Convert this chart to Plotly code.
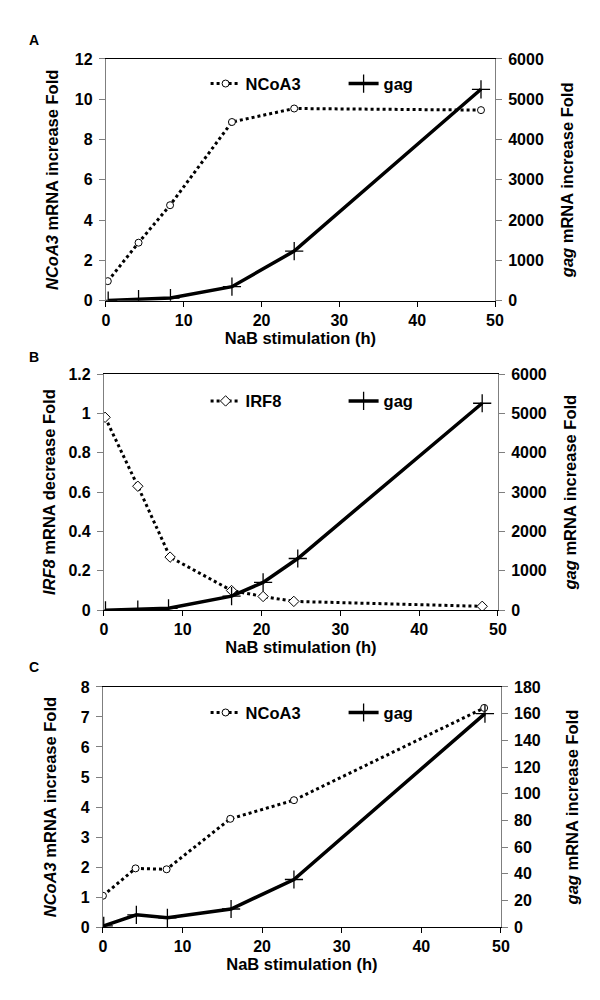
import plotly.graph_objects as go

# ---------------- data ----------------
# Panel A
a_ncoa3_x = [0.25, 4.2, 8.25, 16.2, 24.2, 48.2]
a_ncoa3_y = [0.97, 2.88, 4.74, 8.87, 9.54, 9.46]
a_gag_x = [0.3, 4.2, 8.3, 16.2, 24.2, 48.2]
a_gag_y = [5, 40, 65, 348, 1231, 5247]

# Panel B
b_irf8_x = [0.15, 4.3, 8.4, 16.2, 20.2, 24.1, 48.0]
b_irf8_y = [0.98, 0.63, 0.27, 0.10, 0.07, 0.045, 0.02]
b_gag_x = [0.2, 4.3, 8.2, 16.2, 20.2, 24.6, 48.0]
b_gag_y = [0, 17, 50, 358, 707, 1314, 5258]

# Panel C
c_ncoa3_x = [0.0, 4.1, 8.0, 16.0, 24.0, 47.9]
c_ncoa3_y = [1.05, 1.96, 1.93, 3.61, 4.23, 7.3]
c_gag_x = [0.1, 4.2, 8.1, 16.1, 24.0, 48.0]
c_gag_y = [1, 9.3, 7.1, 13.7, 35.8, 160]

FONT = "Liberation Sans, Arial, sans-serif"
TFS = 16      # tick labels
LFS = 16.5    # titles / legend
GRAY = "#7f7f7f"

# figure lives inside the page body (8 px default margin)
W, H = 584, 984
OFF = 8

def px_x(p):
    return (p - OFF) / W

def px_y(p):
    return 1 - (p - OFF) / H

fig = go.Figure()

def dotted(x, y, name, symbol, size, xa, ya, leg):
    fig.add_trace(go.Scatter(
        x=x, y=y, name=name, mode="lines+markers", xaxis=xa, yaxis=ya, legend=leg,
        line=dict(color="black", width=3, dash="dot"),
        marker=dict(symbol=symbol, size=size, color="white",
                    line=dict(color="black", width=1))))

def solid(x, y, name, xa, ya, leg):
    fig.add_trace(go.Scatter(
        x=x, y=y, name=name, mode="lines+markers", xaxis=xa, yaxis=ya, legend=leg,
        line=dict(color="black", width=3.5),
        marker=dict(symbol="cross-thin", size=13, color="black",
                    line=dict(color="black", width=1.3))))

dotted(a_ncoa3_x, a_ncoa3_y, "NCoA3", "circle", 7, "x", "y", "legend")
solid(a_gag_x, a_gag_y, "gag", "x", "y2", "legend")
dotted(b_irf8_x, b_irf8_y, "IRF8", "diamond", 8, "x2", "y3", "legend2")
solid(b_gag_x, b_gag_y, "gag", "x2", "y4", "legend2")
dotted(c_ncoa3_x, c_ncoa3_y, "NCoA3", "circle", 7, "x3", "y5", "legend3")
solid(c_gag_x, c_gag_y, "gag", "x3", "y6", "legend3")

tickfont = dict(family=FONT, size=TFS, color="black", weight="bold")
titlefont = dict(family=FONT, size=LFS, color="black", weight="bold")

def xaxis(x0, x1, anchor):
    return dict(domain=[px_x(x0), px_x(x1)], anchor=anchor, range=[0, 50], dtick=10,
                showline=True, linecolor="black", linewidth=1, mirror=True,
                ticks="outside", ticklen=5, tickcolor="black",
                showgrid=False, zeroline=False, tickfont=tickfont,
                title=dict(text="NaB stimulation (h)", font=titlefont, standoff=3))

def yleft(y0, y1, anchor, rng, dtick, title, standoff):
    return dict(domain=[px_y(y1), px_y(y0)], anchor=anchor, range=rng, dtick=dtick,
                showline=True, linecolor=GRAY, linewidth=1,
                ticks="outside", ticklen=6, tickcolor=GRAY, ticklabelstandoff=3,
                showgrid=False, zeroline=False, tickfont=tickfont,
                title=dict(text=title, font=titlefont, standoff=standoff))

def yright(overlay, anchor, rng, dtick, standoff):
    return dict(overlaying=overlay, anchor=anchor, side="right", range=rng, dtick=dtick,
                showline=True, linecolor=GRAY, linewidth=1,
                ticks="outside", ticklen=6, tickcolor=GRAY, ticklabelstandoff=3,
                showgrid=False, zeroline=False, tickfont=tickfont,
                title=dict(text="<i>gag</i> mRNA increase Fold", font=titlefont,
                           standoff=standoff))

def legend(ypage):
    return dict(orientation="h", x=px_x(245 - 39), y=px_y(ypage),
                xanchor="left", yanchor="middle",
                font=dict(family=FONT, size=LFS, color="black", weight="bold"),
                bgcolor="rgba(0,0,0,0)", entrywidth=93, traceorder="normal")

fig.update_layout(
    width=W, height=H,
    margin=dict(l=0, r=0, t=0, b=0),
    paper_bgcolor="white", plot_bgcolor="white",
    font=dict(family=FONT, size=LFS, color="black"),
    xaxis=xaxis(104, 502, "y"),
    yaxis=yleft(51.7, 297.7, "x", [0, 12], 2, "<i>NCoA3</i> mRNA increase Fold", 12),
    yaxis2=yright("y", "x", [0, 6000], 1000, 18),
    xaxis2=xaxis(102, 505, "y3"),
    yaxis3=yleft(372.3, 612.7, "x2", [0, 1.2], 0.2, "<i>IRF8</i> mRNA decrease Fold", 8),
    yaxis4=yright("y3", "x2", [0, 6000], 1000, 18),
    xaxis3=xaxis(101, 508, "y5"),
    yaxis5=yleft(690.7, 935.3, "x3", [0, 8], 1, "<i>NCoA3</i> mRNA increase Fold", 20),
    yaxis6=yright("y5", "x3", [0, 180], 20, 26),
    legend=legend(77),
    legend2=legend(400),
    legend3=legend(717),
    showlegend=True,
)

for txt, yy in [("A", 32.5), ("B", 355), ("C", 670)]:
    fig.add_annotation(text=txt, x=px_x(30), y=px_y(yy), xref="paper", yref="paper",
                       showarrow=False, xanchor="center", yanchor="middle",
                       font=dict(family=FONT, size=14, color="black", weight="bold"))

fig.write_html("out.html")
